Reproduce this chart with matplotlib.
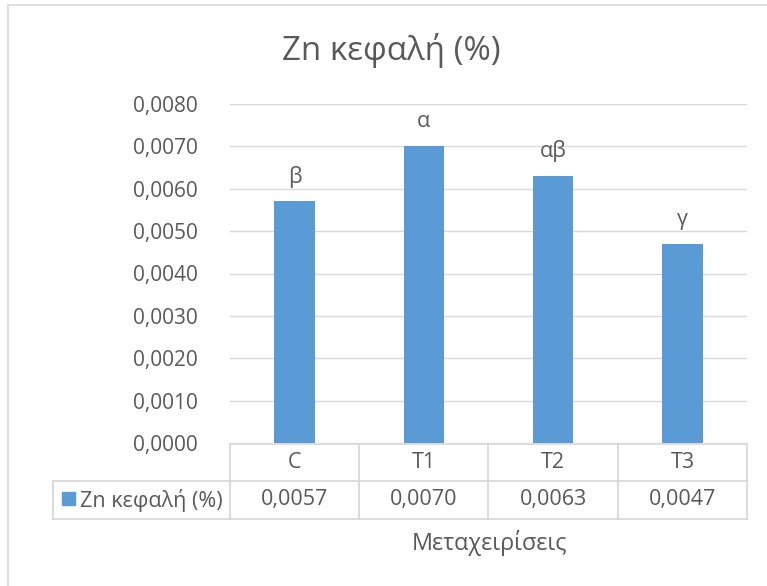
import matplotlib
matplotlib.use("Agg")
import matplotlib.pyplot as plt
from matplotlib.lines import Line2D
from matplotlib.patches import Rectangle
from matplotlib.ticker import FuncFormatter, MultipleLocator
import matplotlib.transforms as mtransforms

plt.rcParams['font.family'] = ['Open Sans', 'DejaVu Sans']

# Data
categories = ["C", "T1", "T2", "T3"]
values = [0.0057, 0.0070, 0.0063, 0.0047]
letters = ["β", "α", "αβ", "γ"]
series_name = "Zn κεφαλή (%)"
title = "Zn κεφαλή (%)"
x_title = "Μεταχειρίσεις"

W, H = 767, 586
BAR = "#5B9BD5"
TXT = "#595959"
GRID = "#D9D9D9"
FS = 15.5

fig = plt.figure(figsize=(W / 100, H / 100), dpi=100)


def fx(px):
    return px / W


def fy(py):
    return 1 - py / H


# Chart border
fig.add_artist(Rectangle((fx(8), fy(H + 20)), 1.2, fy(5) - fy(H + 20),
                         transform=fig.transFigure, fill=False,
                         edgecolor=GRID, linewidth=1.2))

ax = fig.add_axes([fx(230), fy(443), fx(747) - fx(230), fy(104) - fy(443)])
xs = list(range(len(categories)))
bars = ax.bar(xs, values, width=0.313, color=BAR, zorder=3)
ax.set_xlim(-0.5, len(categories) - 0.5)
ax.set_ylim(0, 0.008)
ax.yaxis.set_major_locator(MultipleLocator(0.001))
ax.yaxis.set_major_formatter(FuncFormatter(lambda v, p: f"{v:.4f}".replace(".", ",")))
ax.grid(axis="y", color=GRID, linewidth=1.0, zorder=0)
for s in ax.spines.values():
    s.set_visible(False)
ax.tick_params(axis="y", length=0, pad=23, labelsize=15, labelcolor=TXT)
ax.tick_params(axis="x", length=0, labelbottom=False)

for xi, v, lab in zip(xs, values, letters):
    ax.annotate(lab, (xi, v), xytext=(0, 10), textcoords="offset points",
                ha="center", va="bottom", fontsize=FS, color=TXT)

fig.text(fx(391), fy(50), title, ha="center", va="center", fontsize=23.8, color=TXT)

# Data table below the plot area (x in data units, y in figure units)
trans = mtransforms.blended_transform_factory(ax.transData, fig.transFigure)
y_top, y_mid, y_bot = fy(443.5), fy(481), fy(519)
n = len(categories)
lw = 1.3
ax_lines = []
ax_lines.append(Line2D([-0.5, n - 0.5], [y_top, y_top]))
ax_lines.append(Line2D([-0.5, n - 0.5], [y_bot, y_bot]))
for b in range(n + 1):
    ax_lines.append(Line2D([b - 0.5, b - 0.5], [y_bot, y_top]))
for ln in ax_lines:
    ln.set_transform(trans)
    ln.set_color(GRID)
    ln.set_linewidth(lw)
    ln.set_clip_on(False)
    fig.add_artist(ln)

# Middle row line and legend cell extend to the left
for xs_, ys_ in [([fx(53), fx(747)], [y_mid, y_mid]),
                 ([fx(53), fx(230)], [y_bot, y_bot]),
                 ([fx(53), fx(53)], [y_bot, y_mid])]:
    fig.add_artist(Line2D(xs_, ys_, transform=fig.transFigure, color=GRID, linewidth=lw))

for xi, cat, v in zip(xs, categories, values):
    fig.text(xi, (y_top + y_mid) / 2, cat, transform=trans, ha="center",
             va="center", fontsize=FS, color=TXT)
    fig.text(xi, (y_mid + y_bot) / 2, f"{v:.4f}".replace(".", ","), transform=trans,
             ha="center", va="center", fontsize=FS, color=TXT)

fig.add_artist(Rectangle((fx(62), fy(505)), fx(13), fy(492) - fy(505),
                         transform=fig.transFigure, color=BAR))
fig.text(fx(80), (y_mid + y_bot) / 2, series_name, ha="left", va="center",
         fontsize=FS, color=TXT)

fig.text(fx(489), fy(543), x_title, ha="center", va="center", fontsize=16.8, color=TXT)

fig.savefig("out.png", dpi=100)
